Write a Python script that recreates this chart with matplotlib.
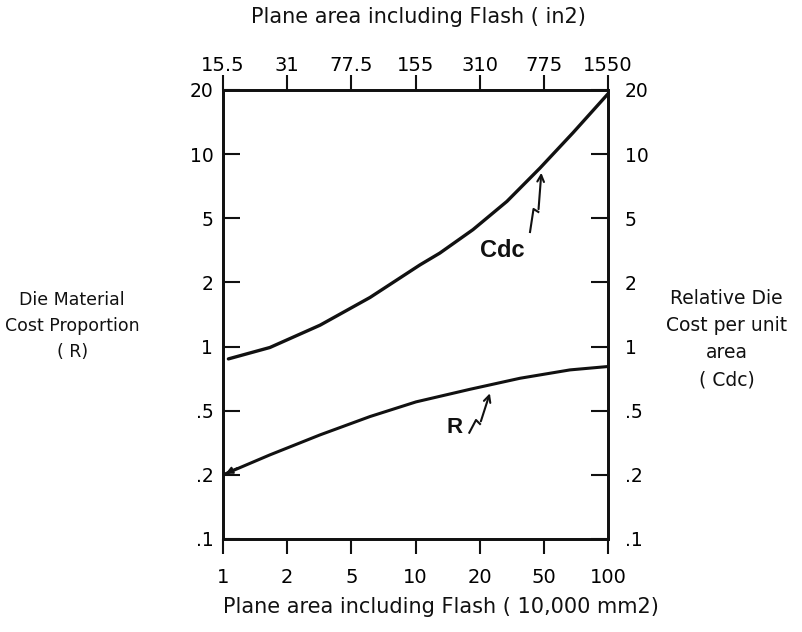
import numpy as np
import matplotlib
matplotlib.use("Agg")
import matplotlib.pyplot as plt

# tick ladders (equally spaced 1-2-5 steps on both axes)
X_TICKS = [1, 2, 5, 10, 20, 50, 100]
X_LABELS = ["1", "2", "5", "10", "20", "50", "100"]
TOP_LABELS = ["15.5", "31", "77.5", "155", "310", "775", "1550"]
Y_TICKS = [0.1, 0.2, 0.5, 1, 2, 5, 10, 20]
Y_LABELS = [".1", ".2", ".5", "1", "2", "5", "10", "20"]

# curves
X_CDC = [1.06, 1.66, 3.2, 6.12, 10.5, 13.0, 18.6, 29.5, 47.3, 68.5, 100]
Y_CDC = [0.875, 0.99, 1.26, 1.70, 2.57, 3.04, 4.25, 6.0, 8.6, 12.6, 19.2]
X_R = [1, 1.66, 3.2, 6.12, 10.06, 18.0, 35.6, 66.3, 100]
Y_R = [0.2, 0.266, 0.354, 0.46, 0.55, 0.63, 0.71, 0.777, 0.806]


def ladder(ticks):
    lt = np.log10(ticks)
    idx = np.arange(len(ticks), dtype=float)

    def fwd(v):
        v = np.clip(np.asarray(v, dtype=float), 1e-12, None)
        return np.interp(np.log10(v), lt, idx)

    def inv(p):
        return 10 ** np.interp(np.asarray(p, dtype=float), idx, lt)
    return fwd, inv


XF = ladder(X_TICKS)
YF = ladder(Y_TICKS)
INK = "#111111"
plt.rcParams['font.family'] = ['DejaVu Sans']

fig = plt.figure(figsize=(8.03, 6.32), dpi=100)
ax = fig.add_axes([0.2777, 0.1472, 0.4795, 0.7104])
ax.set_xscale('function', functions=XF)
ax.set_yscale('function', functions=YF)
ax.set_xlim(1, 100)
ax.set_ylim(0.1, 20)
ax.set_xticks(X_TICKS, labels=X_LABELS)
ax.set_yticks(Y_TICKS, labels=Y_LABELS)
ax.minorticks_off()
ax.tick_params(axis='x', direction='out', length=11, width=1.5, pad=10,
               labelsize=14, top=False, color=INK)
ax.tick_params(axis='y', direction='in', length=12, width=1.5, pad=7,
               labelsize=13.5, right=False, color=INK)

# top axis: same positions in square inches
ax2 = ax.twiny()
ax2.set_xscale('function', functions=XF)
ax2.set_xlim(1, 100)
ax2.set_xticks(X_TICKS, labels=TOP_LABELS)
ax2.minorticks_off()
ax2.tick_params(axis='x', direction='out', length=11, width=1.5, pad=0,
                labelsize=14, color=INK)

# right axis
ax3 = ax.twinx()
ax3.set_yscale('function', functions=YF)
ax3.set_ylim(0.1, 20)
ax3.set_yticks(Y_TICKS, labels=Y_LABELS)
ax3.minorticks_off()
ax3.tick_params(axis='y', direction='in', length=12, width=1.5, pad=12,
                labelsize=13.5, color=INK)

for a in (ax, ax2, ax3):
    for s in a.spines.values():
        s.set_linewidth(1.8)
        s.set_color(INK)

ax.plot(X_CDC, Y_CDC, color=INK, lw=2.4, solid_capstyle='round', solid_joinstyle='round')
ax.plot(X_R, Y_R, color=INK, lw=2.2, solid_capstyle='round', solid_joinstyle='round')
ax.annotate('', xy=(1.0, 0.2), xytext=(1.2, 0.224),
            arrowprops=dict(arrowstyle='-|>', color=INK, lw=1.5, mutation_scale=10))

# curve labels with squiggle arrows
ax.text(0.7247, 0.6414, "Cdc", transform=ax.transAxes, ha='center', va='center',
        fontsize=17, fontweight='bold', family='Liberation Sans', color=INK)
ax.plot([0.7974, 0.8065, 0.8190], [0.6837, 0.7350, 0.7283], transform=ax.transAxes,
        color=INK, lw=1.5)
ax.annotate('', xy=(0.8273, 0.8218), xytext=(0.8190, 0.7283), xycoords='axes fraction',
            textcoords='axes fraction',
            arrowprops=dict(arrowstyle='->', color=INK, lw=1.5, mutation_scale=12))

ax.text(0.6026, 0.2472, "R", transform=ax.transAxes, ha='center', va='center',
        fontsize=16, fontweight='bold', family='Liberation Sans', color=INK)
ax.plot([0.6397, 0.6571, 0.6675], [0.2367, 0.2650, 0.2561], transform=ax.transAxes,
        color=INK, lw=1.5)
ax.annotate('', xy=(0.6953, 0.3303), xytext=(0.6675, 0.2561), xycoords='axes fraction',
            textcoords='axes fraction',
            arrowprops=dict(arrowstyle='->', color=INK, lw=1.5, mutation_scale=12))

fig.text(0.5205, 0.973, "Plane area including Flash ( in2)", ha='center', va='center',
         fontsize=15, color=INK)
fig.text(0.2777, 1 - 607 / 632, "Plane area including Flash ( 10,000 mm2)", ha='left',
         va='center', fontsize=15, color=INK)
fig.text(0.09, 0.484, "Die Material\nCost Proportion\n( R)", ha='center', va='center',
         multialignment='center', linespacing=1.55, fontsize=12.5, color=INK)
fig.text(0.905, 0.4636, "Relative Die\nCost per unit\narea\n( Cdc)", ha='center',
         va='center', multialignment='center', linespacing=1.55, fontsize=13.5, color=INK)

fig.savefig("out.png", dpi=100)
